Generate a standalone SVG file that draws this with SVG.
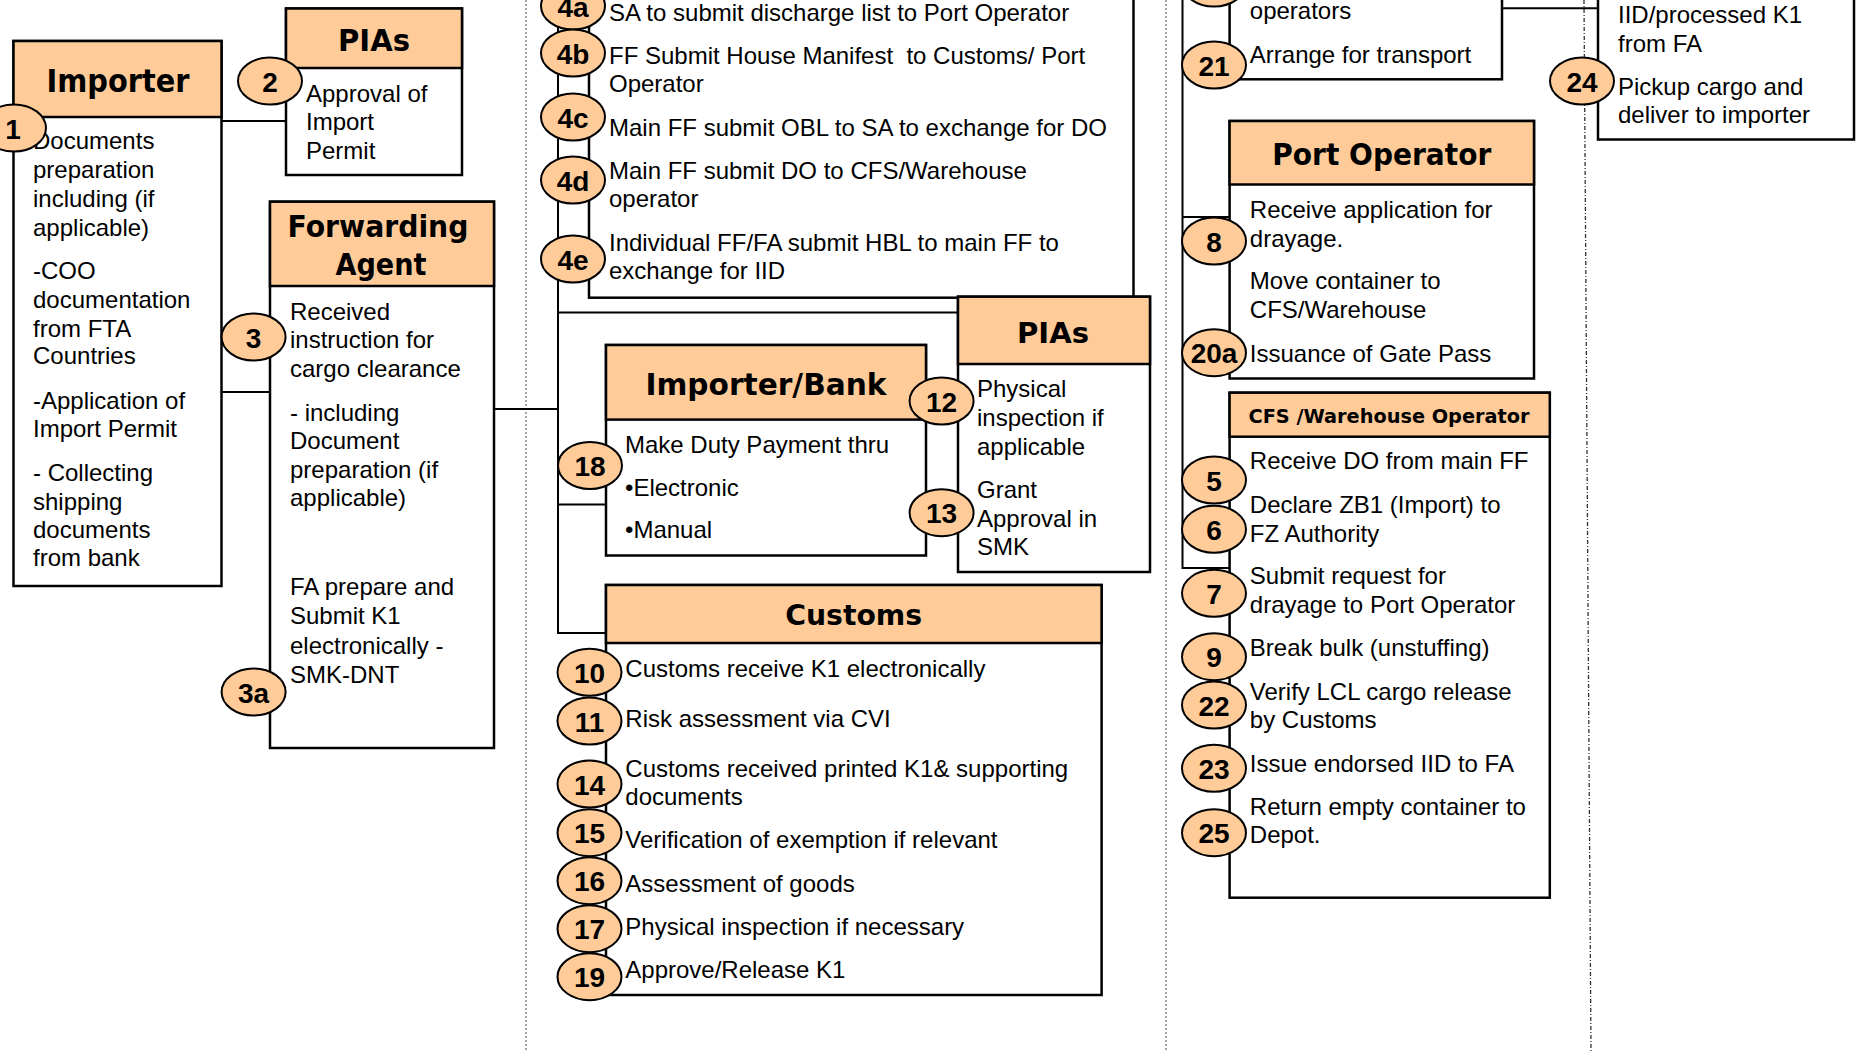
<svg xmlns="http://www.w3.org/2000/svg" width="1864" height="1052" viewBox="0 0 1864 1052">
<style>
.box{fill:#fff;stroke:#000;stroke-width:2.5}
.hd{fill:#FFCC99;stroke:#000;stroke-width:2.5}
.ttl{font-family:"DejaVu Sans","Liberation Sans",sans-serif;font-weight:bold;fill:#000;text-anchor:middle}
.tx{font-family:"Liberation Sans",Arial,sans-serif;font-size:24px;fill:#000}
.num ellipse{fill:#FFCC99;stroke:#000;stroke-width:2}
.num text{font-family:"Liberation Sans",Arial,sans-serif;font-weight:bold;font-size:28px;fill:#000;text-anchor:middle}
.ln{stroke:#000;stroke-width:2;fill:none}
.dot{stroke:#888;stroke-width:1.5;stroke-dasharray:2 2;fill:none}
.dash{stroke:#333;stroke-width:1.3;stroke-dasharray:4 2 1 2;fill:none}
</style>
<rect width="1864" height="1052" fill="#fff"/>
<g id="lanes">
<line class="dot" x1="526" y1="0" x2="526" y2="1052"/>
<line class="dot" x1="1166" y1="0" x2="1166" y2="1052"/>
<line class="dash" x1="1584" y1="0" x2="1591" y2="1052"/>
</g>
<g id="connectors">
<line class="ln" x1="221.5" y1="121" x2="286" y2="121"/>
<line class="ln" x1="221.5" y1="392" x2="270" y2="392"/>
<line class="ln" x1="494" y1="409" x2="558" y2="409"/>
<polyline class="ln" points="558,-5 558,633 606,633"/>
<line class="ln" x1="558" y1="312.5" x2="958" y2="312.5"/>
<line class="ln" x1="558" y1="504.5" x2="606" y2="504.5"/>
<polyline class="ln" points="1182.5,-5 1182.5,568 1229.6,568"/>
<line class="ln" x1="1182.5" y1="217" x2="1229.6" y2="217"/>
<line class="ln" x1="1502" y1="8.3" x2="1598" y2="8.3"/>
</g>
<g id="importer">
<rect class="box" x="13.5" y="41" width="208" height="545"/>
<rect class="hd" x="13.5" y="41" width="208" height="76"/>
<text class="ttl" x="118" y="92" font-size="32" textLength="143" lengthAdjust="spacingAndGlyphs">Importer</text>
<text class="tx" x="33"><tspan x="33" y="148.5">Documents</tspan><tspan x="33" y="177.5">preparation</tspan><tspan x="33" y="206.5">including (if</tspan><tspan x="33" y="235.5">applicable)</tspan><tspan x="33" y="278.5">-COO</tspan><tspan x="33" y="307.5">documentation</tspan><tspan x="33" y="336.5">from FTA</tspan><tspan x="33" y="364">Countries</tspan><tspan x="33" y="408.5">-Application of</tspan><tspan x="33" y="436.5">Import Permit</tspan><tspan x="33" y="480.5">- Collecting</tspan><tspan x="33" y="509.5">shipping</tspan><tspan x="33" y="538">documents</tspan><tspan x="33" y="566">from bank</tspan></text>
<g class="num"><ellipse cx="14" cy="128" rx="32" ry="23.5"/><text x="13" y="138.5">1</text></g>
</g>
<g id="pias-1">
<rect class="box" x="286" y="8.5" width="176" height="166.5"/>
<rect class="hd" x="286" y="8.5" width="176" height="59.5"/>
<text class="ttl" x="374" y="51" font-size="30" textLength="72" lengthAdjust="spacingAndGlyphs">PIAs</text>
<text class="tx"><tspan x="306" y="101.5">Approval of</tspan><tspan x="306" y="130">Import</tspan><tspan x="306" y="159">Permit</tspan></text>
<g class="num"><ellipse cx="270" cy="81" rx="32" ry="23.5"/><text x="270" y="91.5">2</text></g>
</g>
<g id="forwarding-agent">
<rect class="box" x="270" y="201.7" width="224" height="546.3"/>
<rect class="hd" x="270" y="201.7" width="224" height="84.3"/>
<text class="ttl" x="378" y="237" font-size="30" textLength="181" lengthAdjust="spacingAndGlyphs">Forwarding</text>
<text class="ttl" x="381" y="275" font-size="30" textLength="91" lengthAdjust="spacingAndGlyphs">Agent</text>
<text class="tx"><tspan x="290" y="319.5">Received</tspan><tspan x="290" y="348">instruction for</tspan><tspan x="290" y="377">cargo clearance</tspan><tspan x="290" y="421">- including</tspan><tspan x="290" y="448.5">Document</tspan><tspan x="290" y="477.5">preparation (if</tspan><tspan x="290" y="506">applicable)</tspan><tspan x="290" y="594.5">FA prepare and</tspan><tspan x="290" y="624">Submit K1</tspan><tspan x="290" y="654">electronically -</tspan><tspan x="290" y="683">SMK-DNT</tspan></text>
<g class="num"><ellipse cx="253.6" cy="337" rx="32" ry="23.5"/><text x="253.6" y="347.5">3</text></g>
<g class="num"><ellipse cx="253.6" cy="692" rx="32" ry="23.5"/><text x="253.6" y="702.5">3a</text></g>
</g>
<g id="shipping-steps">
<rect class="box" x="589" y="-10" width="544.5" height="307.7"/>
<text class="tx"><tspan x="609" y="20.7">SA to submit discharge list to Port Operator</tspan><tspan x="609" y="63.5">FF Submit House Manifest &#160;to Customs/ Port</tspan><tspan x="609" y="92">Operator</tspan><tspan x="609" y="135.5">Main FF submit OBL to SA to exchange for DO</tspan><tspan x="609" y="178.5">Main FF submit DO to CFS/Warehouse</tspan><tspan x="609" y="207">operator</tspan><tspan x="609" y="250.5">Individual FF/FA submit HBL to main FF to</tspan><tspan x="609" y="278.5">exchange for IID</tspan></text>
<g class="num"><ellipse cx="573" cy="6" rx="32" ry="23.5"/><text x="573" y="16.5">4a</text></g>
<g class="num"><ellipse cx="573" cy="53" rx="32" ry="23.5"/><text x="573" y="63.5">4b</text></g>
<g class="num"><ellipse cx="573" cy="117" rx="32" ry="23.5"/><text x="573" y="127.5">4c</text></g>
<g class="num"><ellipse cx="573" cy="180" rx="32" ry="23.5"/><text x="573" y="190.5">4d</text></g>
<g class="num"><ellipse cx="573" cy="259" rx="32" ry="23.5"/><text x="573" y="269.5">4e</text></g>
</g>
<g id="importer-bank">
<rect class="box" x="606" y="345" width="320" height="210.5"/>
<rect class="hd" x="606" y="345" width="320" height="74.6"/>
<text class="ttl" x="766" y="395" font-size="30" textLength="241" lengthAdjust="spacingAndGlyphs">Importer/Bank</text>
<text class="tx"><tspan x="625" y="453">Make Duty Payment thru</tspan><tspan x="625" y="495.5">•Electronic</tspan><tspan x="625" y="538">•Manual</tspan></text>
<g class="num"><ellipse cx="590" cy="465.5" rx="32" ry="23.5"/><text x="590" y="476">18</text></g>
</g>
<g id="pias-2">
<rect class="box" x="958" y="296.7" width="192" height="275.3"/>
<rect class="hd" x="958" y="296.7" width="192" height="67.3"/>
<text class="ttl" x="1053" y="342.7" font-size="29" textLength="72" lengthAdjust="spacingAndGlyphs">PIAs</text>
<text class="tx"><tspan x="977" y="397">Physical</tspan><tspan x="977" y="426">inspection if</tspan><tspan x="977" y="454.5">applicable</tspan><tspan x="977" y="497.5">Grant</tspan><tspan x="977" y="527">Approval in</tspan><tspan x="977" y="555">SMK</tspan></text>
<g class="num"><ellipse cx="941.6" cy="401" rx="32" ry="23.5"/><text x="941.6" y="411.5">12</text></g>
<g class="num"><ellipse cx="941.6" cy="512.7" rx="32" ry="23.5"/><text x="941.6" y="523.2">13</text></g>
</g>
<g id="customs">
<rect class="box" x="606" y="585" width="495.6" height="410"/>
<rect class="hd" x="606" y="585" width="495.6" height="58"/>
<text class="ttl" x="853.7" y="625" font-size="28" textLength="137" lengthAdjust="spacingAndGlyphs">Customs</text>
<text class="tx"><tspan x="625.3" y="676.7">Customs receive K1 electronically</tspan><tspan x="625.3" y="726.7">Risk assessment via CVI</tspan><tspan x="625.3" y="776.7">Customs received printed K1&amp; supporting</tspan><tspan x="625.3" y="805">documents</tspan><tspan x="625.3" y="848.3">Verification of exemption if relevant</tspan><tspan x="625.3" y="892.3">Assessment of goods</tspan><tspan x="625.3" y="935">Physical inspection if necessary</tspan><tspan x="625.3" y="978.3">Approve/Release K1</tspan></text>
<g class="num"><ellipse cx="589.5" cy="672.3" rx="32" ry="23.5"/><text x="589.5" y="682.8">10</text></g>
<g class="num"><ellipse cx="589.5" cy="721" rx="32" ry="23.5"/><text x="589.5" y="731.5">11</text></g>
<g class="num"><ellipse cx="589.5" cy="784" rx="32" ry="23.5"/><text x="589.5" y="794.5">14</text></g>
<g class="num"><ellipse cx="589.5" cy="832.7" rx="32" ry="23.5"/><text x="589.5" y="843.2">15</text></g>
<g class="num"><ellipse cx="589.5" cy="880.7" rx="32" ry="23.5"/><text x="589.5" y="891.2">16</text></g>
<g class="num"><ellipse cx="589.5" cy="928.7" rx="32" ry="23.5"/><text x="589.5" y="939.2">17</text></g>
<g class="num"><ellipse cx="589.5" cy="976.7" rx="32" ry="23.5"/><text x="589.5" y="987.2">19</text></g>
</g>
<g id="transport-operators">
<rect class="box" x="1229.6" y="-10" width="272.4" height="89.3"/>
<text class="tx"><tspan x="1249.8" y="19.3">operators</tspan><tspan x="1249.8" y="62.7">Arrange for transport</tspan></text>
<g class="num"><ellipse cx="1214" cy="-17" rx="32" ry="23.5"/></g>
<g class="num"><ellipse cx="1214" cy="65" rx="32" ry="23.5"/><text x="1214" y="75.5">21</text></g>
</g>
<g id="fa-delivery">
<rect class="box" x="1598" y="-10" width="256" height="149.5"/>
<text class="tx"><tspan x="1618" y="23.3">IID/processed K1</tspan><tspan x="1618" y="51.7">from FA</tspan><tspan x="1618" y="95">Pickup cargo and</tspan><tspan x="1618" y="123.3">deliver to importer</tspan></text>
<g class="num"><ellipse cx="1582" cy="81" rx="32" ry="23.5"/><text x="1582" y="91.5">24</text></g>
</g>
<g id="port-operator">
<rect class="box" x="1229.6" y="121" width="304.4" height="257.5"/>
<rect class="hd" x="1229.6" y="121" width="304.4" height="63.5"/>
<text class="ttl" x="1381.8" y="165" font-size="30" textLength="219" lengthAdjust="spacingAndGlyphs">Port Operator</text>
<text class="tx"><tspan x="1249.8" y="218.3">Receive application for</tspan><tspan x="1249.8" y="246.7">drayage.</tspan><tspan x="1249.8" y="289.3">Move container to</tspan><tspan x="1249.8" y="318.3">CFS/Warehouse</tspan><tspan x="1249.8" y="361.7">Issuance of Gate Pass</tspan></text>
<g class="num"><ellipse cx="1214" cy="241" rx="32" ry="23.5"/><text x="1214" y="251.5">8</text></g>
<g class="num"><ellipse cx="1214" cy="352.7" rx="32" ry="23.5"/><text x="1214" y="363.2">20a</text></g>
</g>
<g id="cfs-warehouse">
<rect class="box" x="1229.6" y="392.7" width="320.2" height="505"/>
<rect class="hd" x="1229.6" y="392.7" width="320.2" height="44"/>
<text class="ttl" x="1389" y="422.7" font-size="19.5" textLength="281" lengthAdjust="spacingAndGlyphs">CFS /Warehouse Operator</text>
<text class="tx"><tspan x="1249.8" y="469.3">Receive DO from main FF</tspan><tspan x="1249.8" y="512.7">Declare ZB1 (Import) to</tspan><tspan x="1249.8" y="541.7">FZ Authority</tspan><tspan x="1249.8" y="584">Submit request for</tspan><tspan x="1249.8" y="613.3">drayage to Port Operator</tspan><tspan x="1249.8" y="656">Break bulk (unstuffing)</tspan><tspan x="1249.8" y="700">Verify LCL cargo release</tspan><tspan x="1249.8" y="728.3">by Customs</tspan><tspan x="1249.8" y="771.7">Issue endorsed IID to FA</tspan><tspan x="1249.8" y="815">Return empty container to</tspan><tspan x="1249.8" y="843.3">Depot.</tspan></text>
<g class="num"><ellipse cx="1214" cy="480" rx="32" ry="23.5"/><text x="1214" y="490.5">5</text></g>
<g class="num"><ellipse cx="1214" cy="529.3" rx="32" ry="23.5"/><text x="1214" y="539.8">6</text></g>
<g class="num"><ellipse cx="1214" cy="593.3" rx="32" ry="23.5"/><text x="1214" y="603.8">7</text></g>
<g class="num"><ellipse cx="1214" cy="656.7" rx="32" ry="23.5"/><text x="1214" y="667.2">9</text></g>
<g class="num"><ellipse cx="1214" cy="705" rx="32" ry="23.5"/><text x="1214" y="715.5">22</text></g>
<g class="num"><ellipse cx="1214" cy="768.3" rx="32" ry="23.5"/><text x="1214" y="778.8">23</text></g>
<g class="num"><ellipse cx="1214" cy="832.7" rx="32" ry="23.5"/><text x="1214" y="843.2">25</text></g>
</g>
</svg>
